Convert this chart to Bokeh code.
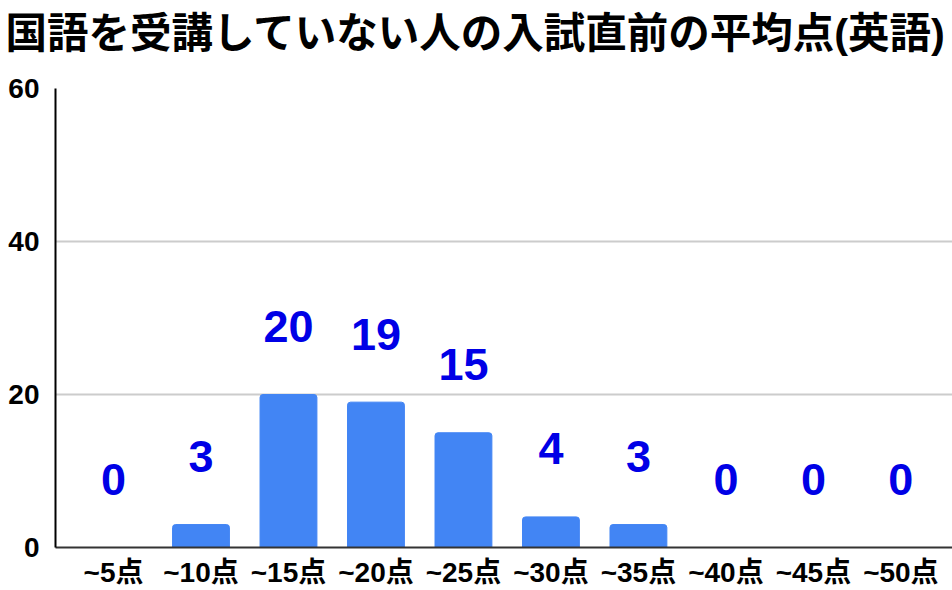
from bokeh.plotting import figure
from bokeh.models import Range1d, ColumnDataSource, FixedTicker, Title
from bokeh.embed import file_html
from bokeh.resources import INLINE
from bokeh.core.properties import value

categories = ["~5点", "~10点", "~15点", "~20点", "~25点", "~30点", "~35点", "~40点", "~45点", "~50点"]
counts = [0, 3, 20, 19, 15, 4, 3, 0, 0, 0]
y_ticks = [0, 20, 40, 60]
title_text = "国語を受講していない人の入試直前の平均点(英語)"

FONT = "Liberation Sans, Noto Sans CJK JP"

xs = list(range(len(categories)))
src = ColumnDataSource(dict(x=xs, y=counts, lbl=[str(c) for c in counts]))

p = figure(width=952, height=590, output_backend="svg", toolbar_location=None,
           x_range=Range1d(-0.663, 9.59), y_range=Range1d(0, 60),
           min_border_left=55, min_border_right=0, min_border_bottom=0, min_border_top=0)
p.title = None
# spacer between title and plot area (nearest to the frame)
spacer = Title(text=" ", text_font_size="10px", standoff=10, text_color="white")
p.add_layout(spacer, "above")
ttl = Title(text=title_text, text_font=FONT, text_font_size="41.5px", text_font_style="bold",
            text_color="#000000", offset=-50, standoff=16, vertical_align="middle", align="left")
p.add_layout(ttl, "above")

p.vbar(x="x", top="y", width=0.65, source=src, color="#4285F4",
       border_radius=[3, 3, 0, 0])
p.text(x="x", y="y", text="lbl", source=src, text_align="center", text_baseline="middle",
       y_offset=-68, text_font=value(FONT), text_font_size="45px", text_font_style="bold",
       text_color="#0000E6")

p.outline_line_color = None
p.background_fill_color = "white"
p.border_fill_color = "white"

p.xgrid.grid_line_color = None
p.ygrid.grid_line_color = "#CCCCCC"
p.ygrid.grid_line_width = 2
p.ygrid.ticker = FixedTicker(ticks=y_ticks)

p.yaxis.ticker = FixedTicker(ticks=y_ticks)
p.yaxis.axis_line_color = "#000000"
p.yaxis.axis_line_width = 2
p.yaxis.major_tick_line_color = None
p.yaxis.minor_tick_line_color = None
p.yaxis.major_label_text_font = FONT
p.yaxis.major_label_text_font_size = "28px"
p.yaxis.major_label_text_font_style = "bold"
p.yaxis.major_label_text_color = "#000000"
p.yaxis.major_label_standoff = 10

p.xaxis.ticker = FixedTicker(ticks=xs)
p.xaxis.major_label_overrides = {i: c for i, c in enumerate(categories)}
p.xaxis.axis_line_color = "#333333"
p.xaxis.axis_line_width = 2
p.xaxis.major_tick_line_color = None
p.xaxis.minor_tick_line_color = None
p.xaxis.major_label_text_font = FONT
p.xaxis.major_label_text_font_size = "28px"
p.xaxis.major_label_text_font_style = "bold"
p.xaxis.major_label_text_color = "#000000"
p.xaxis.major_label_standoff = 3

open("out.html", "w").write(file_html(p, INLINE))
